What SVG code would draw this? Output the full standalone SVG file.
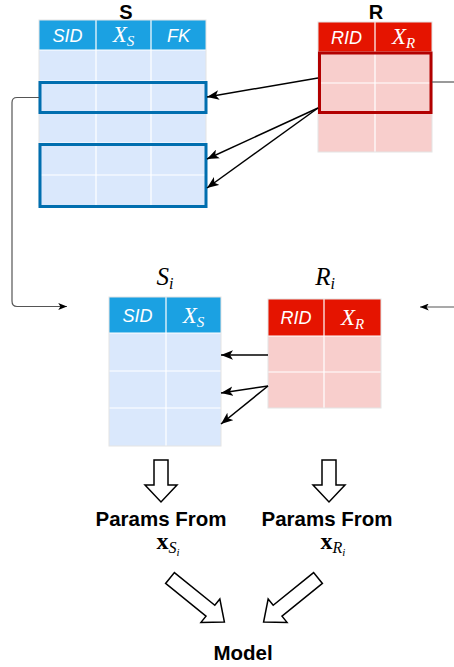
<svg xmlns="http://www.w3.org/2000/svg" width="454" height="667" viewBox="0 0 454 667">
  <style>
    .hdrS { fill: #1ba1e2; }
    .hdrR { fill: #e51400; }
    .bodyS { fill: #dae8fc; }
    .bodyR { fill: #f8cecc; }
    .grid { stroke: #ffffff; stroke-width: 1.2; fill: none; }
    .outer { stroke: #e4e4e4; stroke-width: 1; fill: none; }
    .selS { stroke: #006eaf; stroke-width: 3; fill: none; }
    .selR { stroke: #b20000; stroke-width: 3; fill: none; }
    .col { font-family: "Liberation Sans", Arial, sans-serif; font-style: italic; font-size: 18px; fill: #ffffff; text-anchor: middle; }
    .math { font-family: "Liberation Serif", "Times New Roman", serif; font-style: italic; text-anchor: middle; }
    .mw { fill: #ffffff; font-size: 23px; }
    .mb { fill: #000000; font-size: 25px; }
    .title { font-family: "Liberation Sans", Arial, sans-serif; font-weight: bold; font-size: 20px; fill: #000000; text-anchor: middle; }
    .lbl { font-family: "Liberation Sans", Arial, sans-serif; font-weight: bold; font-size: 20.5px; fill: #000000; text-anchor: middle; }
    .edge { stroke: #000000; stroke-width: 1.5; fill: none; }
    .thin { stroke: #555555; stroke-width: 1.2; fill: none; }
    .block { fill: #ffffff; stroke: #000000; stroke-width: 1.5; stroke-linejoin: miter; }
  </style>
  <defs>
    <marker id="arrow" viewBox="0 0 10 8" refX="10" refY="4" markerWidth="12" markerHeight="10" markerUnits="userSpaceOnUse" orient="auto">
      <path d="M0,0 L10,4 L0,8 L2.5,4 Z" fill="#000000"/>
    </marker>
    <marker id="arrowSmall" viewBox="0 0 10 8" refX="10" refY="4" markerWidth="9" markerHeight="7" markerUnits="userSpaceOnUse" orient="auto">
      <path d="M0,0 L10,4 L0,8 L2.5,4 Z" fill="#000000"/>
    </marker>
    <!-- hollow block arrow pointing along +x, tail at origin -->
    <polygon id="blockDiag" points="0,-7 52,-7 52,-15 70,0 52,15 52,7 0,7"/>
  </defs>

  <!-- table S -->
  <g id="S">
    <text class="title" x="126" y="19">S</text>
    <rect class="hdrS" x="39" y="20" width="167" height="30"/>
    <rect class="bodyS" x="39" y="50" width="167" height="156"/>
    <path class="grid" d="M96,20 V206 M151,20 V206 M39,50 H206 M39,81 H206 M39,112 H206 M39,143 H206 M39,175 H206"/>
    <rect class="outer" x="39" y="20" width="167" height="186"/>
    <text class="col" x="67.5" y="42">SID</text>
    <text class="math mw" x="123.5" y="42">X<tspan font-size="15" dy="4">S</tspan></text>
    <text class="col" x="178.5" y="42">FK</text>
    <rect class="selS" x="40" y="82.5" width="166" height="30"/>
    <rect class="selS" x="40" y="144.5" width="166" height="62"/>
  </g>

  <!-- table R -->
  <g id="R">
    <text class="title" x="376" y="19">R</text>
    <rect class="hdrR" x="318" y="22" width="114" height="30"/>
    <rect class="bodyR" x="318" y="52" width="114" height="100"/>
    <path class="grid" d="M375,22 V152 M318,52 H432 M318,83 H432 M318,113 H432"/>
    <rect class="outer" x="318" y="22" width="114" height="130"/>
    <text class="col" x="346.5" y="44">RID</text>
    <text class="math mw" x="403.5" y="44">X<tspan font-size="15" dy="4">R</tspan></text>
    <rect class="selR" x="319.5" y="53" width="111.5" height="59.5"/>
  </g>

  <!-- table S_i -->
  <g id="Si">
    <text class="math mb" x="165" y="285">S<tspan font-size="16" dy="4">i</tspan></text>
    <rect class="hdrS" x="109" y="297" width="112" height="36"/>
    <rect class="bodyS" x="109" y="333" width="112" height="113"/>
    <path class="grid" d="M166,297 V446 M109,333 H221 M109,371 H221 M109,408 H221"/>
    <rect class="outer" x="109" y="297" width="112" height="149"/>
    <text class="col" x="137.5" y="322">SID</text>
    <text class="math mw" x="193.5" y="323">X<tspan font-size="15" dy="4">S</tspan></text>
  </g>

  <!-- table R_i -->
  <g id="Ri">
    <text class="math mb" x="325" y="285">R<tspan font-size="16" dy="4">i</tspan></text>
    <rect class="hdrR" x="268" y="299" width="113" height="37"/>
    <rect class="bodyR" x="268" y="336" width="113" height="72"/>
    <path class="grid" d="M324,299 V408 M268,336 H381 M268,372 H381"/>
    <rect class="outer" x="268" y="299" width="113" height="109"/>
    <text class="col" x="296" y="324">RID</text>
    <text class="math mw" x="352.5" y="325">X<tspan font-size="15" dy="4">R</tspan></text>
  </g>

  <!-- parameter labels -->
  <g id="paramsS">
    <text class="lbl" x="161" y="526">Params From</text>
    <text x="168" y="549" text-anchor="middle" font-family="Liberation Serif, serif" font-size="24" font-weight="bold">x<tspan font-weight="normal" font-style="italic" font-size="16" dy="4">S</tspan><tspan font-weight="normal" font-style="italic" font-size="11" dy="3">i</tspan></text>
  </g>
  <g id="paramsR">
    <text class="lbl" x="327" y="526">Params From</text>
    <text x="333" y="549" text-anchor="middle" font-family="Liberation Serif, serif" font-size="24" font-weight="bold">x<tspan font-weight="normal" font-style="italic" font-size="16" dy="4">R</tspan><tspan font-weight="normal" font-style="italic" font-size="11" dy="3">i</tspan></text>
  </g>
  <g id="model">
    <text class="lbl" x="243" y="660">Model</text>
  </g>

  <!-- connectors -->
  <g id="connectors">
    <path class="edge" d="M318,78 L207,97" marker-end="url(#arrow)"/>
    <path class="edge" d="M318,108 L207,159" marker-end="url(#arrow)"/>
    <path class="edge" d="M318,108 L207,188" marker-end="url(#arrow)"/>
    <path class="edge" d="M268,355 L221,355" marker-end="url(#arrow)"/>
    <path class="edge" d="M268,386 L221,393" marker-end="url(#arrow)"/>
    <path class="edge" d="M268,386 L221,424" marker-end="url(#arrow)"/>
    <path class="thin" d="M39,97.5 H17 Q12,97.5 12,102.5 V301 Q12,306.5 17,306.5 H67" marker-end="url(#arrowSmall)"/>
    <path class="thin" d="M432,82 H454"/>
    <path class="thin" d="M454,307 H420" marker-end="url(#arrowSmall)"/>
    <!-- hollow block arrows -->
    <polygon class="block" points="154,460 168,460 168,485 177,485 161,502 145,485 154,485"/>
    <polygon class="block" points="322,460 336,460 336,485 345,485 329,502 313,485 322,485"/>
    <use href="#blockDiag" class="block" transform="translate(170,578) rotate(39)"/>
    <use href="#blockDiag" class="block" transform="translate(318,578) rotate(141)"/>
  </g>
</svg>
